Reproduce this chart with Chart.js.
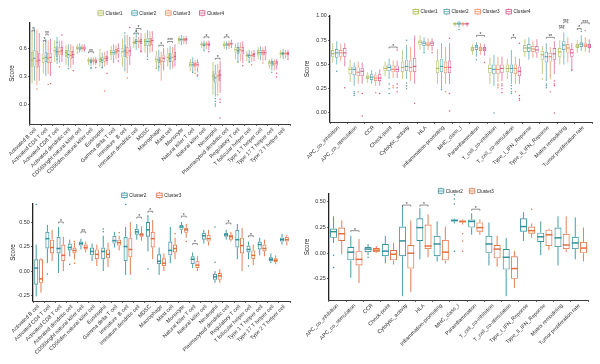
<!DOCTYPE html>
<html>
<head>
<meta charset="utf-8">
<script src="https://cdn.jsdelivr.net/npm/chart.js@4.4.1/dist/chart.umd.min.js"></script>
<style>
  body { margin: 0; background: #fff; width: 600px; height: 364px; position: relative; overflow: hidden; }
  canvas { position: absolute; }
</style>
</head>
<body>
<canvas id="tl" width="300" height="182" style="left:0;top:0"></canvas>
<canvas id="tr" width="300" height="182" style="left:300px;top:0"></canvas>
<canvas id="bl" width="300" height="182" style="left:0;top:182px"></canvas>
<canvas id="br" width="300" height="182" style="left:300px;top:182px"></canvas>
<script>
// categories
const immuneCells = ['Activated B cell', 'Activated CD4 T cell', 'Activated CD8 T cell', 'Activated dendritic cell',
  'CD56bright natural killer cell', 'CD56dim natural killer cell', 'Eosinophil', 'Gamma delta T cell',
  'Immature  B cell', 'Immature dendritic cell', 'MDSC', 'Macrophage', 'Mast cell', 'Monocyte',
  'Natural killer T cell', 'Natural killer cell', 'Neutrophil', 'Plasmacytoid dendritic cell',
  'Regulatory T cell', 'T follicular helper cell', 'Type 1 T helper cell', 'Type 17 T helper cell', 'Type 2 T helper cell'];
const immuneFunctions = ['APC_co_inhibition', 'APC_co_stimulation', 'CCR', 'Check-point', 'Cytolytic_activity', 'HLA',
  'Inflammation-promoting', 'MHC_class_I', 'Parainflammation', 'T_cell_co-inhibition', 'T_cell_co-stimulation',
  'Type_I_IFN_Reponse', 'Type_II_IFN_Reponse', 'Matrix remodeling', 'Tumor proliferation rate'];

// box stats: [min, q1, median, q3, max]
const tlC1 = [[0.22,0.39,0.47,0.56,0.78],[0.33,0.44,0.49,0.54,0.66],[0.45,0.52,0.57,0.61,0.68],[0.42,0.50,0.55,0.58,0.63],
  [0.56,0.59,0.60,0.62,0.64],[0.42,0.45,0.47,0.48,0.50],[0.40,0.45,0.48,0.51,0.56],[0.47,0.52,0.55,0.58,0.62],
  [0.40,0.50,0.56,0.60,0.70],[0.60,0.64,0.66,0.68,0.72],[0.55,0.62,0.67,0.70,0.76],[0.38,0.45,0.48,0.52,0.57],
  [0.40,0.46,0.50,0.54,0.60],[0.64,0.67,0.69,0.71,0.73],[0.35,0.39,0.42,0.45,0.48],[0.60,0.62,0.64,0.65,0.67],
  [0.10,0.24,0.30,0.36,0.45],[0.59,0.62,0.63,0.65,0.67],[0.48,0.55,0.58,0.61,0.65],[0.46,0.50,0.52,0.54,0.57],
  [0.48,0.52,0.55,0.58,0.61],[0.38,0.41,0.44,0.46,0.48],[0.49,0.52,0.54,0.56,0.58]];
const tlC2 = [[0.25,0.40,0.49,0.58,0.82],[0.30,0.45,0.50,0.56,0.70],[0.43,0.50,0.56,0.62,0.72],[0.40,0.49,0.53,0.58,0.64],
  [0.55,0.58,0.60,0.62,0.65],[0.41,0.44,0.46,0.48,0.50],[0.38,0.44,0.47,0.50,0.55],[0.46,0.52,0.55,0.58,0.64],
  [0.35,0.50,0.57,0.63,0.74],[0.58,0.64,0.67,0.70,0.76],[0.50,0.62,0.67,0.71,0.79],[0.35,0.44,0.47,0.51,0.58],
  [0.37,0.45,0.49,0.55,0.62],[0.63,0.67,0.69,0.71,0.74],[0.33,0.39,0.42,0.45,0.50],[0.58,0.62,0.63,0.65,0.68],
  [0.08,0.22,0.28,0.33,0.42],[0.58,0.62,0.64,0.65,0.67],[0.45,0.53,0.57,0.61,0.66],[0.44,0.49,0.52,0.54,0.58],
  [0.47,0.52,0.55,0.58,0.62],[0.36,0.41,0.44,0.46,0.49],[0.48,0.52,0.54,0.56,0.59]];
const tlC3 = [[0.20,0.38,0.46,0.57,0.80],[0.32,0.44,0.49,0.55,0.68],[0.44,0.52,0.56,0.61,0.68],[0.38,0.48,0.52,0.57,0.64],
  [0.56,0.59,0.60,0.62,0.64],[0.42,0.45,0.47,0.48,0.50],[0.40,0.45,0.49,0.52,0.56],[0.48,0.53,0.56,0.59,0.63],
  [0.33,0.49,0.55,0.61,0.74],[0.60,0.65,0.67,0.69,0.72],[0.55,0.62,0.67,0.71,0.78],[0.25,0.42,0.46,0.50,0.56],
  [0.38,0.45,0.50,0.54,0.61],[0.64,0.67,0.69,0.71,0.73],[0.35,0.39,0.42,0.44,0.47],[0.59,0.62,0.64,0.65,0.67],
  [0.12,0.24,0.30,0.35,0.43],[0.59,0.62,0.64,0.66,0.68],[0.46,0.54,0.58,0.61,0.66],[0.45,0.50,0.52,0.54,0.57],
  [0.46,0.52,0.55,0.58,0.61],[0.36,0.41,0.43,0.46,0.48],[0.49,0.52,0.54,0.56,0.58]];
const tlC4 = [[0.25,0.40,0.47,0.55,0.76],[0.30,0.44,0.50,0.55,0.70],[0.45,0.52,0.57,0.61,0.68],[0.42,0.49,0.53,0.57,0.62],
  [0.56,0.58,0.60,0.62,0.64],[0.42,0.44,0.46,0.48,0.50],[0.42,0.46,0.49,0.52,0.57],[0.49,0.54,0.57,0.60,0.65],
  [0.42,0.51,0.57,0.62,0.72],[0.58,0.64,0.67,0.70,0.76],[0.56,0.63,0.68,0.71,0.78],[0.36,0.45,0.49,0.53,0.60],
  [0.40,0.47,0.51,0.56,0.64],[0.64,0.67,0.69,0.71,0.73],[0.34,0.39,0.42,0.45,0.48],[0.58,0.62,0.64,0.66,0.68],
  [0.12,0.25,0.31,0.37,0.46],[0.60,0.63,0.65,0.66,0.69],[0.44,0.53,0.57,0.61,0.67],[0.46,0.50,0.53,0.55,0.58],
  [0.47,0.52,0.55,0.58,0.62],[0.37,0.41,0.44,0.46,0.48],[0.49,0.52,0.54,0.56,0.58]];
// outliers: [category index, value]
const tlOut1 = [[4,0.55],[6,0.58],[11,0.38]];
const tlOut2 = [[2,0.66],[2,0.48],[3,0.38],[5,0.38],[5,0.39],[6,0.39],[7,0.45],[8,0.76],[9,0.78],[10,0.48],[11,0.40],
  [14,0.34],[15,0.57],[16,0.06],[16,0.03],[16,0.0],[16,-0.02],[18,0.45],[19,0.45],[21,0.34]];
const tlOut3 = [[0,0.16],[1,0.21],[2,0.40],[6,0.14],[8,0.28],[14,0.33],[16,0.10],[19,0.42],[20,0.44]];
const tlOut4 = [[1,0.22],[2,0.74],[3,0.36],[5,0.39],[6,0.33],[7,0.46],[8,0.82],[9,0.56],[9,0.57],[14,0.31],[14,0.30],
  [15,0.56],[16,0.05],[16,0.02],[16,-0.15],[18,0.41],[21,0.33],[21,0.29],[22,0.48]];
// significance: [category, from series, to series, y, label]
const tlSig = [[0,0,1,0.79,'*'],[1,0,1,0.68,'*'],[1,1,2,0.75,'**'],[5,0,2,0.56,'**'],[9,0,2,0.76,'*'],[9,1,3,0.81,'*'],
  [11,1,3,0.63,'*'],[12,0,2,0.67,'***'],[15,1,3,0.72,'*'],[16,1,3,0.49,'*'],[17,0,2,0.72,'*']];

const trC1 = [[0.52,0.58,0.61,0.65,0.72],[0.32,0.40,0.45,0.48,0.55],[0.31,0.35,0.37,0.39,0.42],[0.38,0.43,0.46,0.49,0.53],
  [0.35,0.42,0.47,0.53,0.65],[0.65,0.70,0.73,0.75,0.80],[0.30,0.41,0.46,0.54,0.66],[0.89,0.91,0.92,0.93,0.94],
  [0.60,0.64,0.66,0.68,0.71],[0.30,0.41,0.46,0.50,0.57],[0.35,0.42,0.46,0.50,0.56],[0.58,0.63,0.67,0.70,0.76],
  [0.40,0.55,0.60,0.64,0.69],[0.50,0.58,0.63,0.67,0.75],[0.62,0.67,0.69,0.71,0.75]];
const trC2 = [[0.50,0.57,0.62,0.66,0.74],[0.28,0.39,0.45,0.48,0.52],[0.30,0.34,0.37,0.40,0.44],[0.35,0.43,0.47,0.50,0.56],
  [0.35,0.43,0.48,0.55,0.70],[0.63,0.69,0.72,0.74,0.78],[0.25,0.42,0.48,0.56,0.72],[0.88,0.91,0.92,0.94,0.95],
  [0.58,0.65,0.68,0.70,0.73],[0.28,0.40,0.45,0.50,0.60],[0.30,0.41,0.46,0.50,0.65],[0.55,0.63,0.67,0.71,0.78],
  [0.33,0.52,0.58,0.63,0.72],[0.50,0.65,0.70,0.74,0.83],[0.64,0.68,0.71,0.73,0.80]];
const trC3 = [[0.53,0.58,0.62,0.65,0.71],[0.30,0.38,0.42,0.47,0.53],[0.28,0.33,0.36,0.39,0.42],[0.36,0.42,0.45,0.49,0.54],
  [0.33,0.42,0.47,0.54,0.68],[0.65,0.69,0.71,0.73,0.77],[0.30,0.41,0.47,0.53,0.68],[0.89,0.91,0.92,0.93,0.94],
  [0.60,0.64,0.66,0.68,0.72],[0.32,0.40,0.45,0.50,0.58],[0.30,0.40,0.46,0.50,0.58],[0.57,0.63,0.66,0.69,0.74],
  [0.35,0.53,0.58,0.62,0.68],[0.52,0.62,0.67,0.71,0.78],[0.63,0.68,0.70,0.72,0.78]];
const trC4 = [[0.48,0.58,0.62,0.67,0.72],[0.30,0.38,0.43,0.46,0.52],[0.28,0.33,0.36,0.40,0.45],[0.36,0.42,0.45,0.49,0.54],
  [0.30,0.42,0.48,0.57,0.80],[0.64,0.69,0.72,0.74,0.77],[0.30,0.41,0.47,0.54,0.72],[0.89,0.91,0.92,0.93,0.94],
  [0.59,0.64,0.66,0.68,0.71],[0.33,0.41,0.46,0.50,0.58],[0.30,0.38,0.43,0.48,0.56],[0.57,0.62,0.65,0.69,0.76],
  [0.40,0.55,0.61,0.67,0.74],[0.46,0.58,0.62,0.66,0.72],[0.62,0.67,0.69,0.71,0.76]];
const trOut1 = [[12,0.35]];
const trOut2 = [[0,0.43],[1,0.22],[1,0.20],[1,0.18],[3,0.30],[3,0.25],[3,0.20],[4,0.75],[4,0.31],[4,0.28],[4,0.25],
  [5,0.62],[6,0.24],[7,0.86],[8,0.55],[9,0.0],[10,0.28],[10,0.25],[10,0.22],[10,0.20],[12,0.30],[12,0.28],[12,0.26],[14,0.84]];
const trOut3 = [[1,0.22],[2,0.21],[3,0.28],[3,0.26],[6,0.22],[9,0.30],[9,0.28],[9,0.26],[10,0.22],[12,0.22],[14,0.85]];
const trOut4 = [[0,0.26],[1,0.20],[1,-0.03],[2,0.20],[3,0.65],[3,0.30],[3,0.26],[3,0.22],[4,0.10],[5,0.62],[6,0.77],
  [6,0.20],[6,0.02],[8,0.52],[9,0.30],[9,0.28],[9,0.25],[9,0.21],[10,0.72],[10,0.18],[10,0.15],[10,0.13],[12,0.33],
  [12,0.30],[12,0.28],[12,0.0],[13,0.45],[13,0.44]];
const trSig = [[3,1,3,0.68,'*'],[8,1,3,0.80,'*'],[10,1,2,0.78,'*'],[12,1,3,0.78,'**'],[13,0,1,0.88,'***'],
  [13,1,2,0.94,'***'],[14,0,1,0.87,'*'],[14,1,3,0.93,'***']];

const blC2 = [[-0.26,-0.14,0.03,0.12,0.27],[0.08,0.23,0.33,0.40,0.47],[-0.02,0.18,0.23,0.35,0.45],[0.15,0.21,0.24,0.28,0.32],
  [0.22,0.26,0.28,0.30,0.33],[0.10,0.16,0.20,0.24,0.28],[0.0,0.12,0.20,0.24,0.36],[0.24,0.28,0.31,0.36,0.40],
  [-0.04,0.10,0.25,0.35,0.45],[0.32,0.37,0.40,0.43,0.48],[0.20,0.35,0.42,0.50,0.57],[-0.04,0.07,0.10,0.17,0.24],
  [0.08,0.16,0.21,0.30,0.45],[0.38,0.42,0.45,0.47,0.50],[0.03,0.07,0.12,0.15,0.19],[0.28,0.32,0.36,0.39,0.42],
  [-0.12,-0.09,-0.06,-0.03,0.0],[0.32,0.35,0.37,0.39,0.42],[0.12,0.24,0.32,0.42,0.48],[0.12,0.19,0.22,0.26,0.30],
  [0.16,0.22,0.27,0.30,0.34],[0.08,0.10,0.12,0.14,0.18],[0.27,0.30,0.32,0.34,0.38]];
const blC3 = [[-0.22,-0.12,-0.08,0.12,0.13],[0.10,0.18,0.24,0.32,0.42],[0.0,0.10,0.16,0.27,0.35],[0.12,0.18,0.21,0.24,0.29],
  [0.19,0.22,0.24,0.27,0.30],[0.05,0.12,0.17,0.22,0.27],[0.04,0.13,0.17,0.22,0.29],[0.21,0.26,0.29,0.32,0.36],
  [-0.04,0.14,0.22,0.34,0.50],[0.31,0.35,0.37,0.39,0.44],[0.12,0.24,0.33,0.40,0.52],[0.0,0.05,0.08,0.13,0.18],
  [0.12,0.19,0.23,0.27,0.34],[0.34,0.39,0.42,0.44,0.48],[0.0,0.03,0.06,0.10,0.15],[0.26,0.30,0.33,0.37,0.42],
  [-0.12,-0.09,-0.05,-0.02,0.02],[0.30,0.32,0.35,0.37,0.40],[0.0,0.18,0.26,0.34,0.44],[0.06,0.12,0.16,0.21,0.27],
  [0.15,0.20,0.23,0.27,0.32],[0.07,0.09,0.11,0.13,0.16],[0.26,0.30,0.32,0.35,0.37]];
const blOut2 = [[0,0.68],[1,-0.03],[3,0.07],[6,0.40],[6,0.43],[8,0.68],[10,0.02],[16,0.09],[16,0.45],[19,0.05]];
const blOut3 = [[3,0.08],[3,0.30],[7,0.39],[9,0.45],[12,0.38],[13,0.30]];
const blSig = [[2,0,1,0.50,'*'],[4,0,1,0.40,'**'],[9,0,1,0.55,'*'],[10,0,1,0.61,'*'],[13,0,1,0.56,'*'],
  [14,0,1,0.28,'*'],[17,0,1,0.49,'*'],[19,0,1,0.36,'*']];

const brC2 = [[0.10,0.15,0.21,0.24,0.36],[-0.24,-0.07,0.01,0.06,0.17],[-0.02,0.01,0.04,0.06,0.09],[-0.10,-0.03,0.02,0.09,0.17],
  [-0.42,-0.03,0.12,0.26,0.47],[-0.06,0.12,0.25,0.34,0.44],[-0.08,-0.03,0.09,0.17,0.31],[0.29,0.31,0.32,0.33,0.34],
  [0.18,0.25,0.31,0.33,0.39],[-0.12,0.0,0.09,0.17,0.30],[-0.42,-0.16,-0.04,0.04,0.15],[0.12,0.21,0.26,0.34,0.40],
  [-0.02,0.11,0.16,0.20,0.31],[-0.12,0.06,0.15,0.25,0.36],[-0.06,0.04,0.10,0.16,0.35]];
const brC3 = [[-0.01,0.12,0.19,0.25,0.32],[-0.29,-0.12,-0.06,0.02,0.14],[0.0,0.01,0.03,0.05,0.07],[-0.11,-0.07,-0.01,0.03,0.10],
  [-0.38,-0.15,0.0,0.08,0.32],[-0.04,0.04,0.07,0.28,0.38],[-0.10,-0.07,0.01,0.13,0.26],[0.28,0.30,0.31,0.32,0.33],
  [0.18,0.21,0.25,0.30,0.33],[-0.13,-0.05,0.04,0.08,0.17],[-0.34,-0.25,-0.15,-0.03,0.02],[0.15,0.19,0.22,0.26,0.29],
  [0.03,0.07,0.18,0.23,0.24],[0.01,0.04,0.08,0.19,0.36],[-0.08,0.0,0.05,0.11,0.25]];
const brOut2 = [[0,-0.02],[0,-0.14],[2,-0.04],[7,0.57],[7,0.53],[7,0.48],[7,0.02]];
const brOut3 = [[7,0.19],[7,0.12],[7,0.02],[11,0.43]];
const brSig = [[1,0,1,0.22,'*'],[4,0,1,0.47,'*'],[5,0,1,0.47,'*'],[8,0,1,0.43,'*']];

const topColors = ['#abb850', '#4e9fad', '#ea8a5e', '#d8578a'];
const bottomColors = ['#34909b', '#e1703f'];

Chart.defaults.font.family = "'Liberation Sans', Arial, sans-serif";

// whiskers, medians, outliers, significance brackets and the legend
const boxplotPlugin = {
  id: 'boxplot',
  afterDatasetsDraw(chart, args, opts) {
    const ctx = chart.ctx;
    const yScale = chart.scales.y;
    const py = v => yScale.getPixelForValue(v);
    chart.data.datasets.forEach((ds, di) => {
      const meta = chart.getDatasetMeta(di);
      ctx.save();
      ctx.strokeStyle = ds.borderColor;
      ctx.fillStyle = ds.borderColor;
      ctx.lineWidth = ds.borderWidth;
      meta.data.forEach((bar, i) => {
        const b = ds.stats[i];
        ctx.beginPath();
        ctx.moveTo(bar.x, py(b[3]));
        ctx.lineTo(bar.x, py(b[4]));
        ctx.moveTo(bar.x, py(b[1]));
        ctx.lineTo(bar.x, py(b[0]));
        ctx.stroke();
      });
      ctx.lineWidth = opts.medianWidth;
      meta.data.forEach((bar, i) => {
        const m = py(ds.stats[i][2]);
        ctx.beginPath();
        ctx.moveTo(bar.x - bar.width / 2, m);
        ctx.lineTo(bar.x + bar.width / 2, m);
        ctx.stroke();
      });
      ds.outliers.forEach(o => {
        ctx.beginPath();
        ctx.arc(meta.data[o[0]].x, py(o[1]), opts.pointRadius, 0, Math.PI * 2);
        ctx.fill();
      });
      ctx.restore();
    });

    ctx.save();
    ctx.strokeStyle = '#444';
    ctx.fillStyle = '#333';
    ctx.lineWidth = 0.6;
    ctx.font = "5px 'Liberation Sans', Arial, sans-serif";
    ctx.textAlign = 'center';
    ctx.textBaseline = 'bottom';
    opts.sig.forEach(s => {
      const x1 = chart.getDatasetMeta(s[1]).data[s[0]].x;
      const x2 = chart.getDatasetMeta(s[2]).data[s[0]].x;
      const y = py(s[3]);
      ctx.beginPath();
      ctx.moveTo(x1, y + 1.5);
      ctx.lineTo(x1, y);
      ctx.lineTo(x2, y);
      ctx.lineTo(x2, y + 1.5);
      ctx.stroke();
      ctx.fillText(s[4], (x1 + x2) / 2, y + 2);
    });

    // legend with small boxplot glyphs
    ctx.font = "4.6px 'Liberation Sans', Arial, sans-serif";
    ctx.textAlign = 'left';
    ctx.textBaseline = 'middle';
    chart.data.datasets.forEach((ds, di) => {
      const x = opts.legend.x + di * opts.legend.pitch;
      const y = opts.legend.y;
      ctx.strokeStyle = ds.borderColor;
      ctx.lineWidth = 0.8;
      ctx.strokeRect(x, y - 2.2, 5.5, 4.4);
      ctx.beginPath();
      ctx.moveTo(x, y); ctx.lineTo(x + 5.5, y);
      ctx.moveTo(x + 2.75, y - 2.2); ctx.lineTo(x + 2.75, y - 3.4);
      ctx.moveTo(x + 2.75, y + 2.2); ctx.lineTo(x + 2.75, y + 3.4);
      ctx.stroke();
      ctx.fillStyle = '#222';
      ctx.fillText(ds.label, x + 7.5, y + 0.3);
    });
    ctx.restore();
  }
};

function buildPanel(id, cfg) {
  const W = 300, H = 182;
  const datasets = cfg.series.map((s, i) => ({
    label: s.name,
    data: s.stats.map(b => [b[1], b[3]]),
    stats: s.stats,
    outliers: s.outliers,
    backgroundColor: 'rgba(255,255,255,0)',
    borderColor: cfg.colors[i],
    borderWidth: cfg.lineWidth,
    borderSkipped: false,
    categoryPercentage: cfg.catPct,
    barPercentage: cfg.barPct
  }));
  return new Chart(document.getElementById(id), {
    type: 'bar',
    data: { labels: cfg.labels, datasets: datasets },
    options: {
      responsive: false,
      animation: false,
      events: [],
      layout: { padding: { left: 0, top: cfg.area.top, right: W - cfg.area.right, bottom: 0 } },
      plugins: {
        legend: { display: false },
        tooltip: { enabled: false },
        boxplot: { medianWidth: cfg.medianWidth, pointRadius: 0.75, sig: cfg.sig, legend: cfg.legend }
      },
      scales: {
        x: {
          grid: { drawOnChartArea: false, drawTicks: true, tickLength: 2, color: '#333', lineWidth: 0.7 },
          border: { display: true, color: '#222', width: 0.9 },
          ticks: { autoSkip: false, minRotation: 45, maxRotation: 45, padding: 0.5, color: '#333', font: { size: 5.4 } },
          afterFit: s => { s.height = H - cfg.area.bottom; s.paddingLeft = 0; s.paddingRight = 0; }
        },
        y: {
          min: cfg.yMin,
          max: cfg.yMax,
          grid: { drawOnChartArea: false, drawTicks: true, tickLength: 2, color: '#333', lineWidth: 0.7 },
          border: { display: true, color: '#222', width: 1.3 },
          ticks: {
            stepSize: cfg.yStep,
            includeBounds: false,
            padding: 1.2,
            color: '#333',
            font: { size: 5.4 },
            callback: v => (Math.abs(v) < 1e-9 ? 0 : v).toFixed(cfg.decimals)
          },
          title: { display: true, text: 'Score', color: '#222', font: { size: 6.3 }, padding: { top: cfg.titlePad, bottom: 0 } },
          afterFit: s => { s.width = cfg.area.left; s.paddingTop = 0; s.paddingBottom = 0; }
        }
      }
    },
    plugins: [boxplotPlugin]
  });
}

buildPanel('tl', {
  labels: immuneCells,
  series: [
    { name: 'Cluster1', stats: tlC1, outliers: tlOut1 },
    { name: 'Cluster2', stats: tlC2, outliers: tlOut2 },
    { name: 'Cluster3', stats: tlC3, outliers: tlOut3 },
    { name: 'Cluster4', stats: tlC4, outliers: tlOut4 }
  ],
  colors: topColors, sig: tlSig,
  area: { left: 30, right: 290, top: 23, bottom: 124 },
  yMin: -0.214, yMax: 0.868, yStep: 0.3, decimals: 1, titlePad: 8.2,
  catPct: 0.85, barPct: 0.92, lineWidth: 0.7, medianWidth: 1.1,
  legend: { x: 98, y: 13, pitch: 33.8 }
});

buildPanel('tr', {
  labels: immuneFunctions,
  series: [
    { name: 'Cluster1', stats: trC1, outliers: trOut1 },
    { name: 'Cluster2', stats: trC2, outliers: trOut2 },
    { name: 'Cluster3', stats: trC3, outliers: trOut3 },
    { name: 'Cluster4', stats: trC4, outliers: trOut4 }
  ],
  colors: topColors, sig: trSig,
  area: { left: 30, right: 292, top: 16, bottom: 122 },
  yMin: -0.093, yMax: 1.0, yStep: 0.25, decimals: 2, titlePad: 3.6,
  catPct: 0.92, barPct: 0.85, lineWidth: 0.7, medianWidth: 1.1,
  legend: { x: 113, y: 11.7, pitch: 31 }
});

buildPanel('bl', {
  labels: immuneCells,
  series: [
    { name: 'Cluster2', stats: blC2, outliers: blOut2 },
    { name: 'Cluster3', stats: blC3, outliers: blOut3 }
  ],
  colors: bottomColors, sig: blSig,
  area: { left: 33, right: 290, top: 22, bottom: 119 },
  yMin: -0.306, yMax: 0.684, yStep: 0.25, decimals: 2, titlePad: 9.2,
  catPct: 0.85, barPct: 0.85, lineWidth: 0.9, medianWidth: 1.5,
  legend: { x: 121.7, y: 13.3, pitch: 35 }
});

buildPanel('br', {
  labels: immuneFunctions,
  series: [
    { name: 'Cluster2', stats: brC2, outliers: brOut2 },
    { name: 'Cluster3', stats: brC3, outliers: brOut3 }
  ],
  colors: bottomColors, sig: brSig,
  area: { left: 29, right: 288, top: 12, bottom: 118 },
  yMin: -0.457, yMax: 0.578, yStep: 0.25, decimals: 2, titlePad: 3,
  catPct: 0.95, barPct: 0.85, lineWidth: 0.9, medianWidth: 1.5,
  legend: { x: 138.3, y: 9, pitch: 31 }
});
</script>
</body>
</html>
